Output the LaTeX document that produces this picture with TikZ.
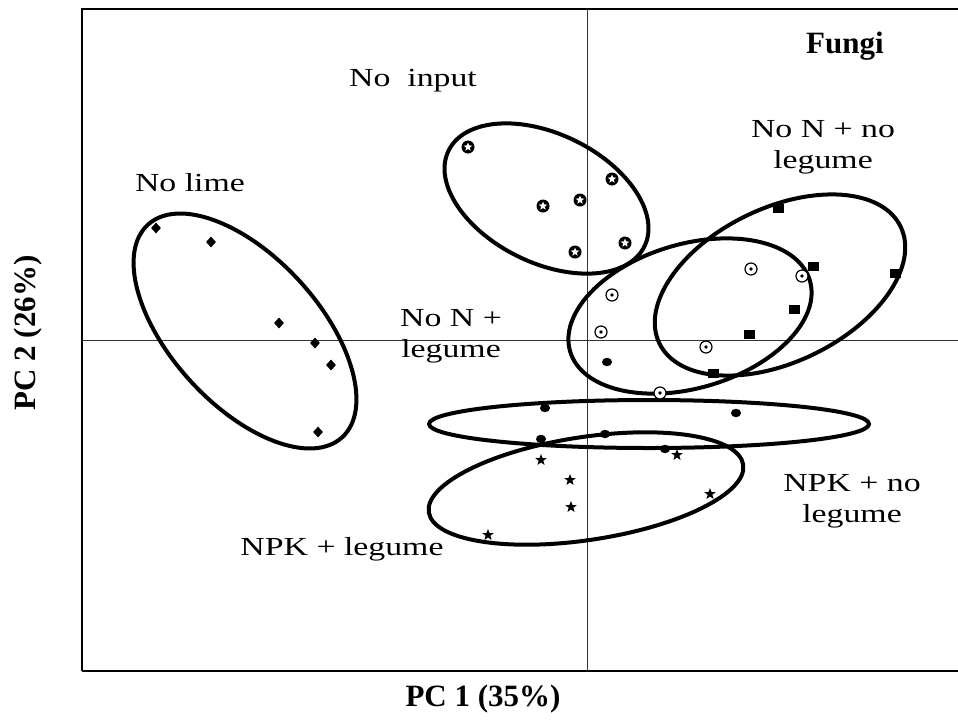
\documentclass[tikz,border=0pt]{standalone}
\usepackage{fontspec}
\setmainfont{Liberation Serif}
\usetikzlibrary{shapes.geometric}
\begin{document}
\begin{tikzpicture}[x=1pt,y=-1pt,
  ell/.style={line width=4pt},
  axisline/.style={line width=1pt, black!80},
  lbl/.style={font=\fontsize{26}{31}\selectfont, align=center, inner sep=0pt, xscale=1.3, transform shape},
  blbl/.style={font=\fontsize{31}{36}\selectfont\bfseries, inner sep=0pt},
  mdiam/.style={diamond, fill=black, minimum width=10pt, minimum height=11pt, inner sep=0pt},
  msq/.style={rectangle, fill=black, minimum width=11pt, minimum height=9pt, inner sep=0pt},
  mdot/.style={ellipse, fill=black, minimum width=10pt, minimum height=8.5pt, inner sep=0pt},
  mcdot/.style={circle, draw=black, line width=1.2pt, fill=white, minimum size=12pt, inner sep=0pt,
     path picture={\fill[black] (path picture bounding box.center) circle (1.9pt);}},
  mstar/.style={star, star points=5, star point ratio=2.4, fill=black, minimum size=12pt, inner sep=0pt},
  mcirc/.style={circle, fill=black, minimum size=13pt, inner sep=0pt},
  mwstar/.style={star, star points=5, star point ratio=2.3, fill=white, minimum size=9pt, inner sep=0pt}
]
\useasboundingbox (0,0) rectangle (958,721);
\fill[white] (0,0) rectangle (958,721);

% frame
\draw[line width=2pt] (82,671) -- (82,9) -- (958,9);
\draw[line width=2pt] (82,671) -- (958,671);
% axes
\draw[axisline] (587,9) -- (587,671);
\draw[axisline] (82,340) -- (958,340);

% ellipses
\draw[ell, rotate around={-47.6:(245,331)}] (245,331) ellipse [x radius=144, y radius=74];
\draw[ell, rotate around={-26:(546.5,198.5)}] (546.5,198.5) ellipse [x radius=109, y radius=64.5];
\draw[ell, rotate around={16.5:(690,316)}] (690,316) ellipse [x radius=125, y radius=72];
\draw[ell, rotate around={25.8:(780,285)}] (780,285) ellipse [x radius=134, y radius=77];
\draw[ell] (649,424) ellipse [x radius=220, y radius=24];
\draw[ell, rotate around={8.6:(586,488.5)}] (586,488.5) ellipse [x radius=159, y radius=51.5];

% No lime: diamonds
\node[mdiam] (d1) at (156,228) {};
\node[mdiam] (d2) at (211,242) {};
\node[mdiam] (d3) at (279,323) {};
\node[mdiam] (d4) at (315,343) {};
\node[mdiam] (d5) at (331,365) {};
\node[mdiam] (d6) at (318,432) {};

% No input: circled stars
\foreach \i/\px/\py in {1/468/147, 2/612/179, 3/543/206, 4/580/200, 5/575/252, 6/625/243}{
  \node[mcirc] (c\i) at (\px,\py) {};
  \node[mwstar] (w\i) at (\px,\py) {};
}

% No N + legume: circle with dot
\node[mcdot] (o1) at (751,269) {};
\node[mcdot] (o2) at (802,276) {};
\node[mcdot] (o3) at (612,295) {};
\node[mcdot] (o4) at (601,332) {};
\node[mcdot] (o5) at (706,347) {};
\node[mcdot] (o6) at (660,393) {};

% No N + no legume: squares
\node[msq] (q1) at (778,208) {};
\node[msq] (q2) at (813,266) {};
\node[msq] (q3) at (895,273) {};
\node[msq] (q4) at (794,309) {};
\node[msq] (q5) at (749,334) {};
\node[msq] (q6) at (713,373) {};

% NPK + no legume: filled circles
\node[mdot] (f1) at (607,362) {};
\node[mdot] (f2) at (545,408) {};
\node[mdot] (f3) at (736,413) {};
\node[mdot] (f4) at (541,439) {};
\node[mdot] (f5) at (605,434) {};
\node[mdot] (f6) at (665,449) {};

% NPK + legume: stars
\node[mstar] (s1) at (541,460) {};
\node[mstar] (s2) at (570,480) {};
\node[mstar] (s3) at (571,507) {};
\node[mstar] (s4) at (488,535) {};
\node[mstar] (s5) at (677,455) {};
\node[mstar] (s6) at (710,494) {};

% labels
\node[blbl] (tF) at (845,46) {Fungi};
\node[lbl] (tNI) at (413,81) {No\ \ input};
\node[lbl] (tNL) at (190,183) {No lime};
\node[lbl] (tNNn) at (823,147) {No N + no\\legume};
\node[lbl] (tNNl) at (451,336) {No N +\\legume};
\node[lbl] (tNPKn) at (852,501) {NPK + no\\legume};
\node[lbl] (tNPKl) at (342,549) {NPK + legume};
\node[blbl] (tx) at (483,699) {PC 1 (35\%)};
\node[blbl, rotate=90] (ty) at (28,333) {PC 2 (26\%)};
\end{tikzpicture}
\end{document}
